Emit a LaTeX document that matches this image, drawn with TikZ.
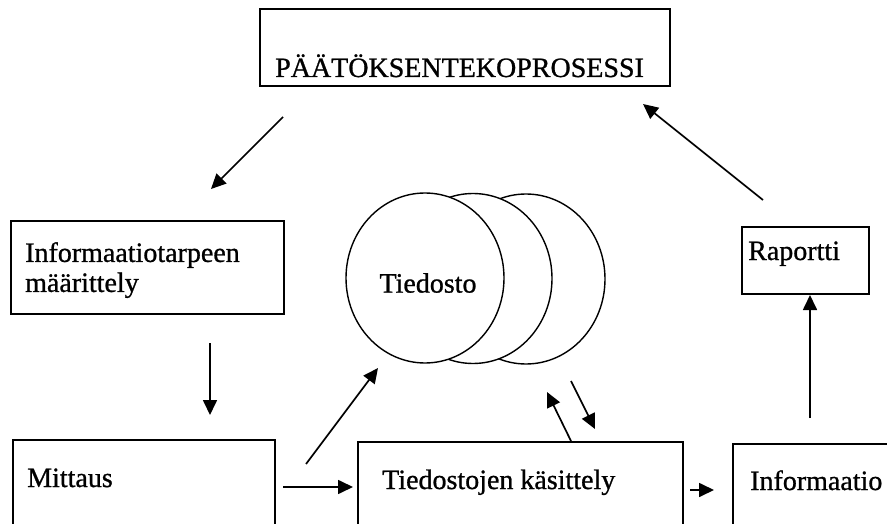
\documentclass[tikz,border=0pt]{standalone}
\usepackage{fontspec}
\setmainfont[FakeBold=0.9]{Liberation Serif}
\usetikzlibrary{arrows.meta,shapes.geometric}
\begin{document}
\begin{tikzpicture}[x=1pt,y=-1pt,
  box/.style={draw,line width=1.6pt,inner sep=0pt,anchor=north west},
  txt/.style={inner sep=0pt,font=\fontsize{28}{30}\selectfont},
  disk/.style={ellipse,draw,fill=white,line width=1.4pt,inner sep=0pt,
               minimum width=158pt,minimum height=170pt},
  flow/.style={line width=1.7pt,-{Triangle[length=15pt,width=14pt]}}]
\useasboundingbox (0,0) rectangle (887,524);
\clip (0,0) rectangle (887,524);

% boxes
\node[box,minimum width=410pt,minimum height=77pt] (paatos) at (259,8) {};
\node[box,minimum width=273pt,minimum height=93pt] (tarve) at (10,220) {};
\node[box,minimum width=127pt,minimum height=67pt] (raportti) at (741,226) {};
\node[box,minimum width=262pt,minimum height=120pt] (mittaus) at (12,439) {};
\node[box,minimum width=325pt,minimum height=120pt] (kasittely) at (357,441) {};
\node[box,minimum width=200pt,minimum height=120pt] (informaatio) at (732,443) {};

% box texts
\node[txt,anchor=base west] (paatosT) at (275,77) {PÄÄTÖKSENTEKOPROSESSI};
\node[txt,anchor=north west,align=left] (tarveT) at (25,242) {Informaatiotarpeen\\määrittely};
\node[txt,anchor=base west] (raporttiT) at (748,260) {Raportti};
\node[txt,anchor=base west] (mittausT) at (27,487) {Mittaus};
\node[txt,anchor=base west] (kasittelyT) at (382,489) {Tiedostojen käsittely};
\node[txt,anchor=base west] (informaatioT) at (750,490) {Informaatio};

% stacked file disks, back to front
\node[disk] (disk3) at (526,279) {};
\node[disk] (disk2) at (473,278.5) {};
\node[disk] (disk1) at (425,278) {};
\node[txt] (tiedosto) at (428,283) {Tiedosto};

% arrow end points
\coordinate (p1a) at (283,117); \coordinate (p1b) at (211,189);
\coordinate (p2a) at (763,200); \coordinate (p2b) at (643,104);
\coordinate (p3a) at (210,343); \coordinate (p3b) at (210,415);
\coordinate (p4a) at (283,487); \coordinate (p4b) at (353,487);
\coordinate (p5a) at (306,464); \coordinate (p5b) at (378,368);
\coordinate (p6a) at (571,441); \coordinate (p6b) at (547,392);
\coordinate (p7a) at (571,381); \coordinate (p7b) at (595,429);
\coordinate (p8a) at (690,490); \coordinate (p8b) at (714,490);
\coordinate (p9a) at (810,418); \coordinate (p9b) at (810,295);

% arrows
\draw[flow] (p1a) -- (p1b);
\draw[flow] (p2a) -- (p2b);
\draw[flow] (p3a) -- (p3b);
\draw[flow] (p4a) -- (p4b);
\draw[flow] (p5a) -- (p5b);
\draw[flow] (p6a) -- (p6b);
\draw[flow] (p7a) -- (p7b);
\draw[flow] (p8a) -- (p8b);
\draw[flow] (p9a) -- (p9b);
\end{tikzpicture}
\end{document}
